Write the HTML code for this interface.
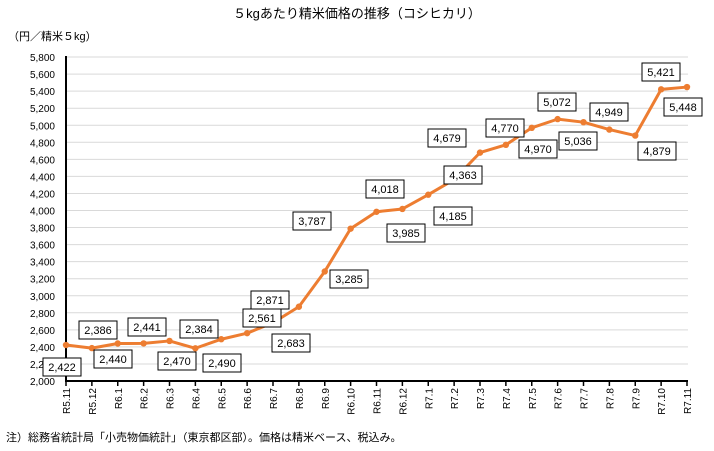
<!DOCTYPE html>
<html><head><meta charset="utf-8"><style>
body{margin:0;background:#fff}
svg text{font-family:"Liberation Sans","Noto Sans CJK JP",sans-serif;fill:#000}
</style></head><body>
<svg width="714" height="446" viewBox="0 0 714 446" xmlns="http://www.w3.org/2000/svg">
<text x="357" y="18" font-size="13" text-anchor="middle">５kgあたり精米価格の推移（コシヒカリ）</text>
<text x="8" y="40" font-size="11">（円／精米５kg）</text>
<g id="grid" stroke="#d9d9d9" stroke-width="1"></g>
<g id="yl" font-size="10" text-anchor="end"></g>
<g id="xl" font-size="10"></g>
<line x1="66" y1="56" x2="66" y2="382" stroke="#000" stroke-width="2"/>
<line x1="65" y1="381" x2="688" y2="381" stroke="#000" stroke-width="2"/>
<g id="ticks" stroke="#000" stroke-width="1.5"></g>
<polyline id="ln" fill="none" stroke="#ed7d31" stroke-width="3" stroke-linejoin="round"/>
<g id="pts" fill="#ed7d31"></g>
<g id="lab" font-size="11"></g>
<text x="6" y="441" font-size="11">注）総務省統計局「小売物価統計」（東京都区部）。価格は精米ベース、税込み。</text>
</svg>
<script>
var ns="http://www.w3.org/2000/svg";
function el(p,t,a,txt){var e=document.createElementNS(ns,t);for(var k in a)e.setAttribute(k,a[k]);if(txt)e.textContent=txt;document.getElementById(p).appendChild(e);return e;}
function Y(v){return 381-(v-2000)/200*17.05;}
for(var v=2000;v<=5800;v+=200){var y=Y(v);if(v>2000)el("grid","line",{x1:66,x2:688,y1:y,y2:y});el("yl","text",{x:55,y:y+4},v.toLocaleString("en-US"));}
var cats=["R5.11","R5.12","R6.1","R6.2","R6.3","R6.4","R6.5","R6.6","R6.7","R6.8","R6.9","R6.10","R6.11","R6.12","R7.1","R7.2","R7.3","R7.4","R7.5","R7.6","R7.7","R7.8","R7.9","R7.10","R7.11"];
var d=[2422,2386,2440,2441,2470,2384,2490,2561,2683,2871,3285,3787,3985,4018,4185,4363,4679,4770,4970,5072,5036,4949,4879,5421,5448];
var pos=[[62,367],[98,330],[113,359],[147,327],[177,361],[199,329],[222,363],[262,318],[291,343],[270,300],[349,279],[312,221],[406,233],[385,189],[453,216],[463,175],[447,138],[505,128],[538,149],[557,102],[578,141],[609,112],[657,151],[661,72],[683,107]];
var pts=[];
for(var i=0;i<25;i++){var x=66+i*25.875,y=Y(d[i]);pts.push(x+","+y);
el("pts","circle",{cx:x,cy:y,r:3.2});
el("ticks","line",{x1:x,x2:x,y1:381,y2:386});
el("xl","text",{transform:"translate("+(x+4)+",388) rotate(-90)","text-anchor":"end"},cats[i]);}
document.getElementById("ln").setAttribute("points",pts.join(" "));
for(var i=0;i<25;i++){var c=pos[i];
el("lab","rect",{x:c[0]-19,y:c[1]-9,width:38,height:18,fill:"#fff",stroke:"#000","stroke-width":1});
el("lab","text",{x:c[0],y:c[1]+4,"text-anchor":"middle"},d[i].toLocaleString("en-US"));}
</script>
</body></html>
